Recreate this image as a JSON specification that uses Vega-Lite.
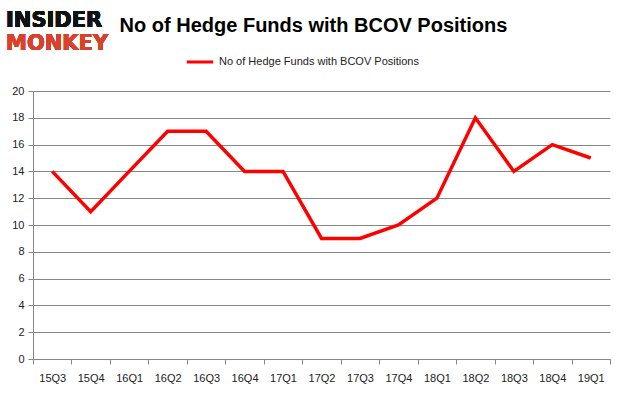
{
  "$schema": "https://vega.github.io/schema/vega-lite/v6.json",
  "width": 577,
  "height": 268,
  "autosize": {"type": "none"},
  "padding": {"left": 33, "top": 91, "right": 15, "bottom": 36},
  "background": "white",
  "config": {
    "view": {"stroke": null},
    "font": "Liberation Sans"
  },
  "title": {
    "text": "No of Hedge Funds with BCOV Positions",
    "fontSize": 20,
    "fontWeight": "bold",
    "color": "#000000",
    "anchor": "middle",
    "dx": -8,
    "offset": -26
  },
  "data": {
    "values": [
      {"q": "15Q3", "v": 14},
      {"q": "15Q4", "v": 11},
      {"q": "16Q1", "v": 14},
      {"q": "16Q2", "v": 17},
      {"q": "16Q3", "v": 17},
      {"q": "16Q4", "v": 14},
      {"q": "17Q1", "v": 14},
      {"q": "17Q2", "v": 9},
      {"q": "17Q3", "v": 9},
      {"q": "17Q4", "v": 10},
      {"q": "18Q1", "v": 12},
      {"q": "18Q2", "v": 18},
      {"q": "18Q3", "v": 14},
      {"q": "18Q4", "v": 16},
      {"q": "19Q1", "v": 15}
    ]
  },
  "layer": [
    {
      "mark": {"type": "line", "strokeWidth": 3.5, "strokeJoin": "miter"},
      "encoding": {
        "x": {
          "field": "q",
          "type": "ordinal",
          "bandPosition": 0.5,
          "scale": {"type": "band", "paddingInner": 0, "paddingOuter": 0},
          "axis": {
            "title": null,
            "labelAngle": 0,
            "tickBand": "extent",
            "grid": false,
            "domainColor": "#868686",
            "tickColor": "#868686",
            "tickSize": 5,
            "labelFontSize": 11,
            "labelColor": "#222222",
            "labelPadding": 8
          }
        },
        "y": {
          "field": "v",
          "type": "quantitative",
          "scale": {"domain": [0, 20]},
          "axis": {
            "title": null,
            "values": [0, 2, 4, 6, 8, 10, 12, 14, 16, 18, 20],
            "gridColor": "#868686",
            "domainColor": "#868686",
            "tickColor": "#868686",
            "tickSize": 5,
            "labelFontSize": 11,
            "labelColor": "#222222",
            "labelPadding": 4
          }
        },
        "color": {
          "datum": "No of Hedge Funds with BCOV Positions",
          "type": "nominal",
          "scale": {"range": ["#ff0000"]},
          "legend": {
            "title": null,
            "orient": "none",
            "legendX": 152,
            "legendY": -44,
            "symbolType": "stroke",
            "symbolStrokeWidth": 3,
            "symbolSize": 700,
            "labelFontSize": 11,
            "labelLimit": 400,
            "labelColor": "#222222"
          }
        }
      }
    },
    {
      "mark": {"type": "text", "text": "INSIDER", "fontSize": 21, "fontWeight": "bold", "color": "#111111", "align": "left", "font": "DejaVu Sans"},
      "encoding": {"x": {"value": -27}, "y": {"value": -70}}
    },
    {
      "mark": {"type": "text", "text": "MONKEY", "fontSize": 21, "fontWeight": "bold", "color": "#d9412b", "align": "left", "font": "DejaVu Sans"},
      "encoding": {"x": {"value": -27}, "y": {"value": -47}}
    }
  ]
}
